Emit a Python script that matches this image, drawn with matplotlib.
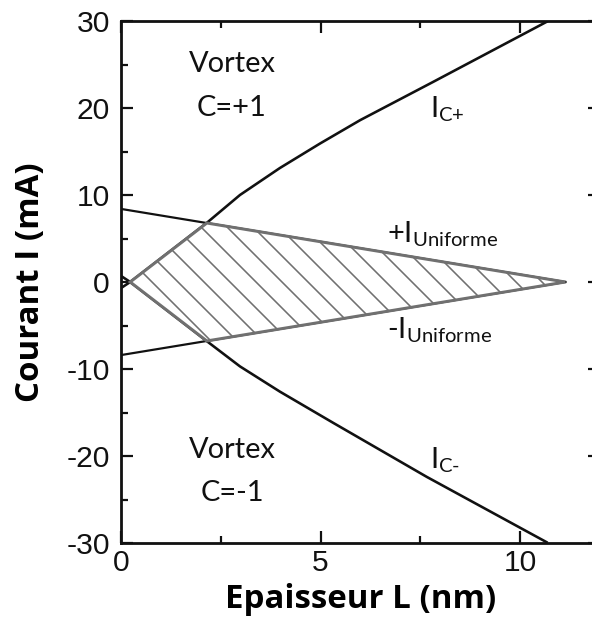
import numpy as np
import matplotlib
matplotlib.use('Agg')
import matplotlib.pyplot as plt

#----------- Data -----------#
# Critical currents for vortex switching (chirality C=+1 / C=-1)
L_cplus = [0.0, 0.23, 2.15, 2.98, 3.98, 4.98, 5.99, 7.82, 10.66]
I_cplus = [-0.7, 0.0, 6.8, 10.0, 13.1, 15.9, 18.6, 23.0, 29.9]
L_cminus = [0.0, 0.23, 2.15, 2.98, 3.98, 5.32, 7.66, 10.66]
I_cminus = [0.7, 0.0, -6.8, -9.7, -12.6, -16.2, -22.4, -29.9]

# Uniform state current, +/- branches
L_unif = [0.0, 11.13]
I_unif = [8.4, 0.0]

x_ticks = [0, 5, 10]
y_ticks = [-30, -20, -10, 0, 10, 20, 30]

#----------- Sizes (given in pixels, converted to points) -----------#
DPI = 78
def pt(px):
    return px * 72.0 / DPI

plt.rcParams['axes.unicode_minus'] = False
plt.rcParams['mathtext.fontset'] = 'custom'
plt.rcParams['mathtext.rm'] = 'Lato'
plt.rcParams['hatch.linewidth'] = pt(1.6)
plt.rcParams['hatch.color'] = '#808080'

fig = plt.figure(figsize=(592 / DPI, 623 / DPI), dpi=DPI)
ax = fig.add_axes([121 / 592, 1 - 543 / 623, 479 / 592, 522 / 623])

# Curves
ax.plot(L_cplus, I_cplus, color='#111111', lw=pt(2.6), zorder=3)
ax.plot(L_cminus, I_cminus, color='#111111', lw=pt(2.6), zorder=3)
ax.plot(L_unif, I_unif, color='#111111', lw=pt(2.2), zorder=3)
ax.plot(L_unif, [-v for v in I_unif], color='#111111', lw=pt(2.2), zorder=3)

# Hatched uniform region: cusp -> crossing with +I_uniform -> tip -> crossing with -I_uniform
L_x = L_cplus[2]
I_x = float(np.interp(L_x, L_unif, I_unif))
poly_L = [L_cplus[1], L_x, L_unif[1], L_x]
poly_I = [I_cplus[1], I_x, I_unif[1], -I_x]
ax.fill(poly_L, poly_I, facecolor='white', edgecolor='#707070', hatch='\\',
        lw=pt(3.0), zorder=4)

# Region / curve labels
txt = dict(family='Lato', fontsize=pt(29), ha='center', va='center', color='#111111')
ax.text(2.78, 25.1, 'Vortex', **txt)
ax.text(2.78, 20.0, 'C=+1', **txt)
ax.text(2.78, -19.3, 'Vortex', **txt)
ax.text(2.78, -24.3, 'C=-1', **txt)

lab = dict(fontsize=pt(29), ha='left', va='baseline', color='#111111')
ax.text(7.74, 19.0, r'$\text{I}_{\text{C+}}$', **lab)
ax.text(6.66, 4.6, r'$\text{+I}_{\text{Uniforme}}$', **lab)
ax.text(6.66, -6.45, r'$\text{-I}_{\text{Uniforme}}$', **lab)
ax.text(7.74, -21.4, r'$\text{I}_{\text{C-}}$', **lab)

#----------- Plot settings -----------#
ax.set_xlim(0, 12)
ax.set_ylim(-30, 30)
ax.set_xticks(x_ticks)
ax.set_yticks(y_ticks)
ax.set_xticks([2.5, 7.5], minor=True)
ax.set_yticks(np.arange(-25, 30, 10), minor=True)
ax.tick_params(which='both', direction='in', top=True, right=True,
               width=pt(2.2), colors='#111111')
ax.tick_params(which='major', length=pt(12))
ax.tick_params(which='minor', length=pt(7))
ax.tick_params(axis='y', pad=pt(11))
ax.tick_params(axis='x', pad=pt(6))
for lbl in ax.get_xticklabels() + ax.get_yticklabels():
    lbl.set_family('Liberation Sans')
    lbl.set_fontsize(pt(30))
for s in ax.spines.values():
    s.set_linewidth(pt(2.8))
    s.set_color('#111111')

ax.set_xlabel('Epaisseur L (nm)', family='Open Sans', fontweight='bold',
              fontsize=pt(33), va='center')
ax.set_ylabel('Courant I (mA)', family='Open Sans', fontweight='bold',
              fontsize=pt(33), va='center')
ax.xaxis.set_label_coords(0.5, (543 - 600) / 522)
ax.yaxis.set_label_coords((31 - 121) / 479, 0.5)

fig.savefig('out.png', dpi=DPI)
